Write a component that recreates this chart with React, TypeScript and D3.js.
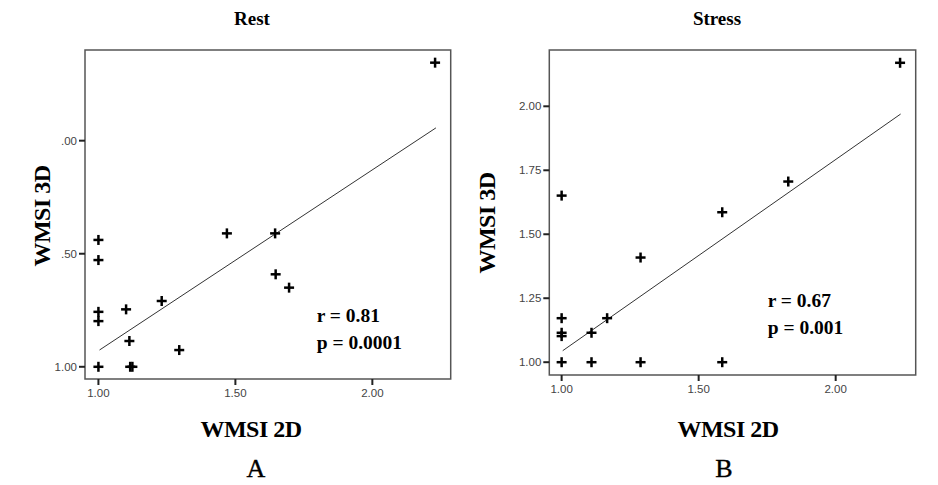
import React from 'react';
import * as d3 from 'd3';

// Rest panel (A)
const restX = [2.229, 1.469, 1.645, 1.647, 1.696, 1.231, 1.101, 1.0, 1.0, 1.0, 1.0, 1.0, 1.113, 1.116, 1.124, 1.295];
const restY = [2.345, 1.59, 1.59, 1.409, 1.35, 1.291, 1.254, 1.561, 1.472, 1.243, 1.202, 1.0, 1.114, 1.0, 1.0, 1.074];
const restFit = { intercept: 0.271, slope: 0.8, from: 1.004, to: 2.232 };
const restXTicks = [1, 1.5, 2];
const restXLabels = ['1.00', '1.50', '2.00'];
const restYTicks = [1, 1.5, 2];
const restYLabels = ['1.00', '.50', '.00'];
const restStats = ['r = 0.81', 'p = 0.0001'];

// Stress panel (B)
const stressX = [2.235, 1.0, 1.827, 1.586, 1.288, 1.0, 1.0, 1.0, 1.109, 1.166, 1.0, 1.109, 1.288, 1.586];
const stressY = [2.17, 1.651, 1.706, 1.586, 1.409, 1.172, 1.115, 1.102, 1.115, 1.172, 1.0, 1.0, 1.0, 1.0];
const stressFit = { intercept: 0.292, slope: 0.75, from: 1.004, to: 2.237 };
const stressXTicks = [1, 1.5, 2];
const stressXLabels = ['1.00', '1.50', '2.00'];
const stressYTicks = [1, 1.25, 1.5, 1.75, 2];
const stressYLabels = ['1.00', '1.25', '1.50', '1.75', '2.00'];
const stressStats = ['r = 0.67', 'p = 0.001'];

const serif = '"Liberation Serif", "Times New Roman", serif';
const sans = '"Liberation Sans", Arial, sans-serif';

type PanelProps = {
  title: string;
  letter: string;
  xs: number[];
  ys: number[];
  fit: { intercept: number; slope: number; from: number; to: number };
  xTicks: number[];
  xLabels: string[];
  yTicks: number[];
  yLabels: string[];
  stats: string[];
  frame: { left: number; top: number; right: number; bottom: number };
  xDomain: [number, number];
  yDomain: [number, number];
  titleX: number;
  xLabelX: number;
  letterX: number;
  yLabelX: number;
  yLabelY: number;
  statX: number;
  statY: number;
  xTickY: number;
};

const Panel = (p: PanelProps) => {
  const x = d3.scaleLinear().domain(p.xDomain).range([p.frame.left, p.frame.right]);
  const y = d3.scaleLinear().domain(p.yDomain).range([p.frame.bottom, p.frame.top]);
  const line = d3.line<number>().x(d => x(d)).y(d => y(p.fit.intercept + p.fit.slope * d));
  const m = 5;

  return (
    <g>
      <text x={p.titleX} y={25} textAnchor="middle" fontFamily={serif} fontWeight="bold" fontSize={19}>{p.title}</text>
      <rect x={p.frame.left} y={p.frame.top} width={p.frame.right - p.frame.left} height={p.frame.bottom - p.frame.top}
        fill="none" stroke="#555" strokeWidth={1.5} />
      {p.yTicks.map((t, i) => (
        <g key={'y' + i}>
          <line x1={p.frame.left - 6} x2={p.frame.left} y1={y(t)} y2={y(t)} stroke="#222" strokeWidth={2} />
          <text x={p.frame.left - 8} y={y(t) + 4} textAnchor="end" fontFamily={sans} fontSize={11.5} fill="#444">{p.yLabels[i]}</text>
        </g>
      ))}
      {p.xTicks.map((t, i) => (
        <g key={'x' + i}>
          <line x1={x(t)} x2={x(t)} y1={p.frame.bottom} y2={p.frame.bottom + 6} stroke="#222" strokeWidth={2} />
          <text x={x(t)} y={p.xTickY} textAnchor="middle" fontFamily={sans} fontSize={11.5} fill="#444">{p.xLabels[i]}</text>
        </g>
      ))}
      <path d={line([p.fit.from, p.fit.to]) || ''} fill="none" stroke="#333" strokeWidth={1} />
      {p.xs.map((v, i) => (
        <g key={'p' + i} stroke="#000" strokeWidth={2.5}>
          <line x1={x(v) - m} x2={x(v) + m} y1={y(p.ys[i])} y2={y(p.ys[i])} />
          <line x1={x(v)} x2={x(v)} y1={y(p.ys[i]) - m} y2={y(p.ys[i]) + m} />
        </g>
      ))}
      {p.stats.map((s, i) => (
        <text key={'s' + i} x={p.statX} y={p.statY + i * 27.5} fontFamily={serif} fontWeight="bold" fontSize={19.5}>{s}</text>
      ))}
      <text x={p.xLabelX} y={437} textAnchor="middle" fontFamily={serif} fontWeight="bold" fontSize={24} letterSpacing={-0.5}>WMSI 2D</text>
      <text x={p.letterX} y={477} textAnchor="middle" fontFamily={serif} fontSize={26} stroke="#000" strokeWidth={0.4}>{p.letter}</text>
      <text transform={`translate(${p.yLabelX},${p.yLabelY}) rotate(-90)`} textAnchor="middle" fontFamily={serif}
        fontWeight="bold" fontSize={24} letterSpacing={-0.5}>WMSI 3D</text>
    </g>
  );
};

export default function App() {
  return (
    <svg width={938} height={485} style={{ position: 'absolute', left: 0, top: 0, background: '#fff' }}>
      <rect width={938} height={485} fill="#fff" />
      <Panel title="Rest" letter="A" xs={restX} ys={restY} fit={restFit}
        xTicks={restXTicks} xLabels={restXLabels} yTicks={restYTicks} yLabels={restYLabels} stats={restStats}
        frame={{ left: 85, top: 50, right: 450.7, bottom: 379 }} xDomain={[0.951, 2.286]} yDomain={[0.946, 2.401]}
        titleX={252} xLabelX={251} letterX={256} yLabelX={50} yLabelY={216} statX={316.7} statY={321.7} xTickY={397} />
      <Panel title="Stress" letter="B" xs={stressX} ys={stressY} fit={stressFit}
        xTicks={stressXTicks} xLabels={stressXLabels} yTicks={stressYTicks} yLabels={stressYLabels} stats={stressStats}
        frame={{ left: 549.3, top: 50, right: 915.7, bottom: 375 }} xDomain={[0.955, 2.292]} yDomain={[0.95, 2.22]}
        titleX={717} xLabelX={728} letterX={724} yLabelX={495} yLabelY={223} statX={767.7} statY={306.7} xTickY={393} />
    </svg>
  );
}
